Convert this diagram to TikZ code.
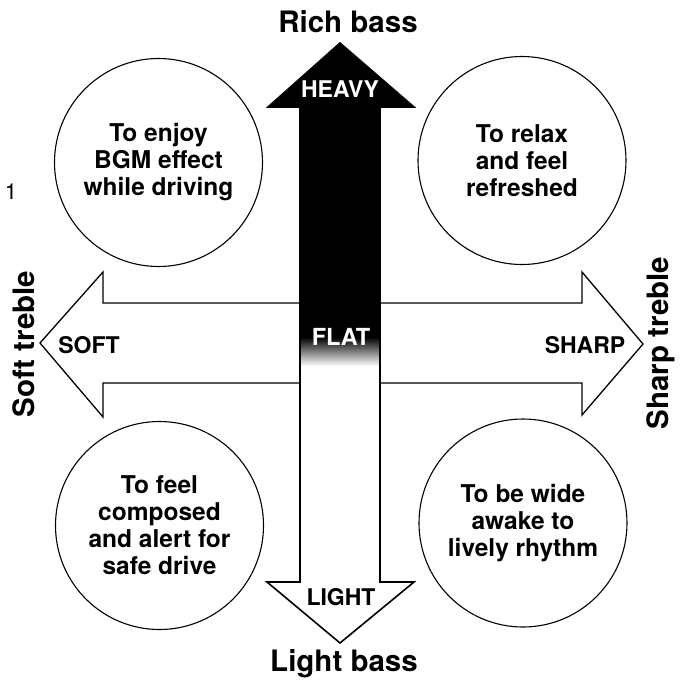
\documentclass[tikz,border=0pt]{standalone}
\usepackage{fontspec}
\setmainfont{TeX Gyre Heros}
\begin{document}
\begin{tikzpicture}[x=1pt,y=-1pt,
  bubble/.style={circle,draw,line width=1.1pt,minimum size=208pt,align=center,inner sep=0pt,
    font=\bfseries\fontsize{24.5}{27}\selectfont},
  axislabel/.style={font=\bfseries\fontsize{29.5}{32}\selectfont,inner sep=0pt},
  dirlabel/.style={font=\bfseries\fontsize{23}{24}\selectfont,inner sep=0pt},
  arrowline/.style={line width=1.6pt,line join=miter}]
\useasboundingbox (0,0) rectangle (680,681);
% horizontal arrow
\draw[arrowline,fill=white,line width=1.3pt] (40,343) -- (103,272) -- (103,303) -- (582,303) -- (582,272)
  -- (643,344) -- (582,415) -- (582,383) -- (103,383) -- (103,417) -- cycle;
% vertical arrow
\fill[white] (340,43) -- (414,107) -- (380,107) -- (380,582) -- (414,582) -- (340,643)
  -- (267,582) -- (300,582) -- (300,107) -- (268,107) -- cycle;
\begin{scope}
\clip (340,43) -- (414,107) -- (380,107) -- (380,582) -- (414,582) -- (340,643)
  -- (267,582) -- (300,582) -- (300,107) -- (268,107) -- cycle;
\fill[black] (250,30) rectangle (430,338);
\shade[top color=black,bottom color=white] (250,337) rectangle (430,366);
\end{scope}
\draw[arrowline] (340,43) -- (414,107) -- (380,107) -- (380,582) -- (414,582) -- (340,643)
  -- (267,582) -- (300,582) -- (300,107) -- (268,107) -- cycle;
% circles
\node[bubble] (tl) at (158.5,162.5) {To enjoy\\BGM effect\\while driving};
\node[bubble] (tr) at (522,160.5) {To relax\\and feel\\refreshed};
\node[bubble] (bl) at (159.5,525.5) {To feel\\composed\\and alert for\\safe drive};
\node[bubble] (br) at (523,523) {To be wide\\awake to\\lively rhythm};
% direction labels
\node[dirlabel,text=white] (heavy) at (340,89) {HEAVY};
\node[dirlabel,text=white,font=\bfseries\fontsize{23.5}{24}\selectfont] (flat) at (341,337) {FLAT};
\node[dirlabel] (soft) at (89,345) {SOFT};
\node[dirlabel] (sharp) at (585,345) {SHARP};
\node[dirlabel] (light) at (341,597) {LIGHT};
% axis labels
\node[axislabel] (rich) at (348,22) {Rich bass};
\node[axislabel] (lightbass) at (344,664) {Light bass};
\node[axislabel,rotate=90] (softt) at (24,344) {Soft treble};
\node[axislabel,rotate=90] (sharpt) at (661,343) {Sharp treble};
\node[font=\fontsize{22}{24}\selectfont,inner sep=0pt] (one) at (11,192) {1};
\end{tikzpicture}
\end{document}
